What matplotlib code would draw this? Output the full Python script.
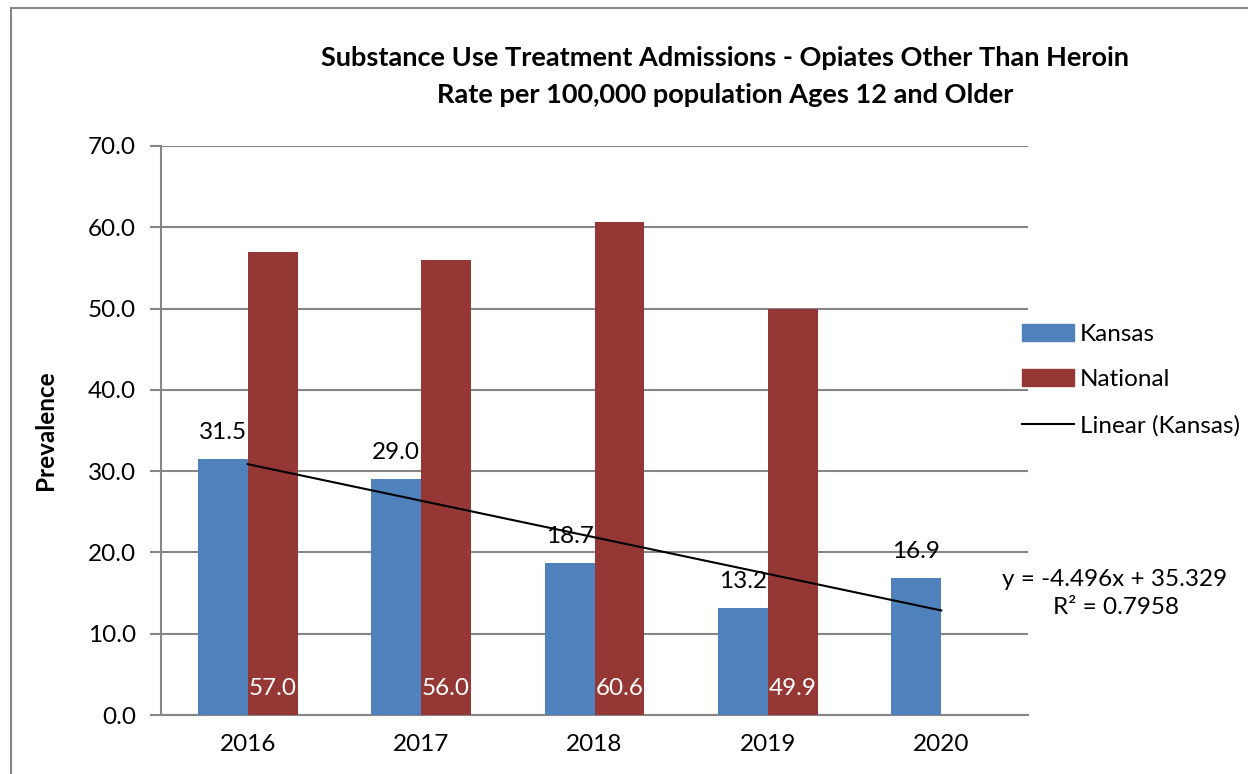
import numpy as np
import matplotlib
matplotlib.use("Agg")
import matplotlib.pyplot as plt
from matplotlib.patches import Rectangle, Patch
from matplotlib.lines import Line2D

plt.rcParams['font.family'] = ['Lato', 'DejaVu Sans']

years = ['2016', '2017', '2018', '2019', '2020']
kansas = [31.5, 29.0, 18.7, 13.2, 16.9]
national = [57.0, 56.0, 60.6, 49.9, np.nan]
yticks = [0, 10, 20, 30, 40, 50, 60, 70]

kansasColor = '#4F81BD'
nationalColor = '#953735'
gridColor = '#868686'
fs = 17.5

fig = plt.figure(figsize=(12.48, 7.74), dpi=100)
ax = fig.add_axes([161/1248, 1 - 715/774, (1028 - 161)/1248, (715 - 146)/774])

x = np.arange(len(years))
w = 0.288
ax.bar(x - w/2, kansas, w, color=kansasColor, zorder=3)
ax.bar(x + w/2, national, w, color=nationalColor, zorder=3)

for xi, v in zip(x, kansas):
    ax.annotate('%.1f' % v, (xi - w/2, v), xytext=(0, 19), textcoords='offset points',
                ha='center', va='center', fontsize=fs, color='black', zorder=5)
for xi, v in zip(x, national):
    if not np.isnan(v):
        ax.annotate('%.1f' % v, (xi + w/2, 0), xytext=(0, 19), textcoords='offset points',
                    ha='center', va='center', fontsize=fs, color='white', zorder=5)

# linear trend of Kansas (x = 1..5 like Excel)
xs = np.arange(1, len(kansas) + 1)
slope, intercept = np.polyfit(xs, kansas, 1)
ax.plot(x, slope * xs + intercept, color='black', lw=1.5, zorder=4)

ax.set_xlim(-0.5, len(years) - 0.5)
ax.set_ylim(0, 70)
ax.set_yticks(yticks)
ax.set_yticklabels(['%.1f' % t for t in yticks], fontsize=fs)
ax.set_xticks(x)
ax.set_xticklabels(years, fontsize=fs)
ax.tick_params(axis='x', length=0, pad=14)
ax.tick_params(axis='y', length=8, width=1.5, color=gridColor, pad=10)
ax.yaxis.grid(True, color=gridColor, lw=1.5, zorder=0)
for s in ['top', 'right']:
    ax.spines[s].set_visible(False)
for s in ['left', 'bottom']:
    ax.spines[s].set_color(gridColor)
    ax.spines[s].set_linewidth(1.5)

ax.set_ylabel('Prevalence', fontsize=fs, fontweight='bold', labelpad=22)

fig.text(725/1248, 1 - 58/774, 'Substance Use Treatment Admissions - Opiates Other Than Heroin',
         ha='center', va='center', fontsize=19.5, fontweight='bold')
fig.text(725/1248, 1 - 95/774, 'Rate per 100,000 population Ages 12 and Older',
         ha='center', va='center', fontsize=19.5, fontweight='bold')

fig.text(1115/1248, 1 - 579/774, 'y = -4.496x + 35.329', ha='center', va='center', fontsize=fs)
fig.text(1116/1248, 1 - 607/774, 'R² = 0.7958', ha='center', va='center', fontsize=fs)

handles = [Patch(color=kansasColor), Patch(color=nationalColor), Line2D([], [], color='black', lw=1.5)]
fig.legend(handles, ['Kansas', 'National', 'Linear (Kansas)'], loc='upper left',
           bbox_to_anchor=(1022/1248, 1 - 324/774), frameon=False, fontsize=fs,
           borderpad=0, borderaxespad=0,
           handlelength=2.14, handleheight=0.7, handletextpad=0.25, labelspacing=1.0)

fig.add_artist(Rectangle((11/1248, -0.1), 2, (774 - 8)/774 + 0.1, transform=fig.transFigure,
                         fill=False, edgecolor=gridColor, lw=1.5))

fig.savefig('out.png', dpi=100)
